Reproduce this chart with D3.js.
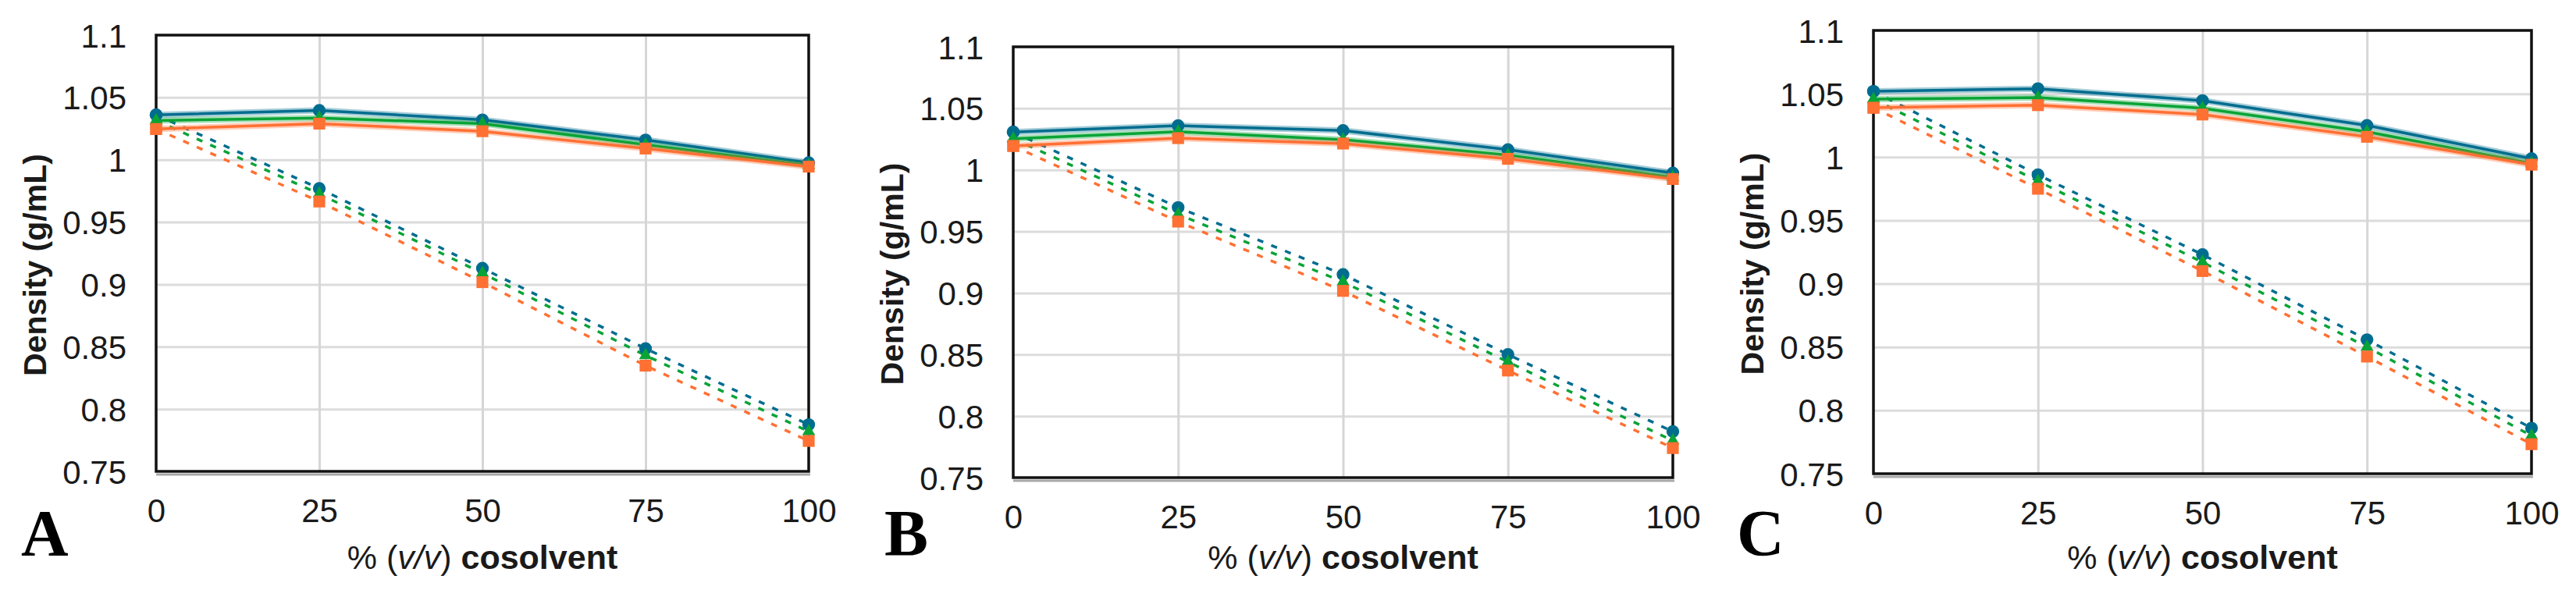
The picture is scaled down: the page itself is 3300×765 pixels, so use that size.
<!DOCTYPE html>
<html>
<head>
<meta charset="utf-8">
<script src="https://cdnjs.cloudflare.com/ajax/libs/d3/7.8.5/d3.min.js"></script>
<style>
  body { margin: 0; background: white; }
  svg { display: block; }
</style>
</head>
<body>
<div id="container"></div>
<script>
// ---------------- data ----------------
let xValues = [0, 25, 50, 75, 100];
let yTicks = [0.75, 0.8, 0.85, 0.9, 0.95, 1, 1.05, 1.1];
let panelLabels = ["A", "B", "C"];

// panel A
let aSolidBlue   = [1.036, 1.0396, 1.032, 1.0159, 0.9976];
let aSolidGreen  = [1.0315, 1.0335, 1.029, 1.012, 0.9954];
let aSolidOrange = [1.0247, 1.029, 1.0229, 1.009, 0.9945];
let aDashBlue    = [1.036, 0.977, 0.913, 0.8485, 0.7875];
let aDashGreen   = [1.0315, 0.9726, 0.909, 0.843, 0.782];
let aDashOrange  = [1.0247, 0.9665, 0.9018, 0.8348, 0.7744];

// panel B
let bSolidBlue   = [1.0307, 1.036, 1.032, 1.0165, 0.9975];
let bSolidGreen  = [1.0254, 1.031, 1.0246, 1.012, 0.994];
let bSolidOrange = [1.0195, 1.0258, 1.0214, 1.009, 0.9926];
let bDashBlue    = [1.0307, 0.9695, 0.915, 0.85, 0.7874];
let bDashGreen   = [1.0254, 0.964, 0.909, 0.844, 0.78];
let bDashOrange  = [1.0195, 0.958, 0.9017, 0.837, 0.774];

// panel C
let cSolidBlue   = [1.0519, 1.054, 1.0446, 1.025, 0.9988];
let cSolidGreen  = [1.0457, 1.047, 1.0386, 1.02, 0.995];
let cSolidOrange = [1.039, 1.041, 1.0336, 1.016, 0.994];
let cDashBlue    = [1.0519, 0.986, 0.923, 0.8558, 0.786];
let cDashGreen   = [1.0457, 0.981, 0.917, 0.85, 0.78];
let cDashOrange  = [1.039, 0.975, 0.91, 0.8425, 0.7733];

// ---------------- styles / layout ----------------
let w = 3300;
let h = 765;
let blue = "#006d8f";
let green = "#0aa336";
let orange = "#ff7033";
let tickFont = "Liberation Sans, Arial, sans-serif";

let panels = [
  { label: panelLabels[0], left: 200,  right: 1036, top: 45, bottom: 604, letterX: 27,
    solid: [aSolidBlue, aSolidGreen, aSolidOrange], dash: [aDashBlue, aDashGreen, aDashOrange] },
  { label: panelLabels[1], left: 1298, right: 2143, top: 60, bottom: 612, letterX: 1133,
    solid: [bSolidBlue, bSolidGreen, bSolidOrange], dash: [bDashBlue, bDashGreen, bDashOrange] },
  { label: panelLabels[2], left: 2400, right: 3243, top: 39, bottom: 607, letterX: 2225,
    solid: [cSolidBlue, cSolidGreen, cSolidOrange], dash: [cDashBlue, cDashGreen, cDashOrange] }
];

let colors = [blue, green, orange];
let symbols = [d3.symbolCircle, d3.symbolTriangle, d3.symbolSquare];
let symbolSizes = [210, 120, 230];

let viz = d3.select("#container").append("svg")
  .attr("width", w)
  .attr("height", h)
  .style("background-color", "white");

function fmt(d) {
  return String(+d.toFixed(2));
}

function drawPanel(p) {
  let xScale = d3.scaleLinear().domain([0, 100]).range([p.left, p.right]);
  let yScale = d3.scaleLinear().domain([0.75, 1.1]).range([p.bottom, p.top]);
  let g = viz.append("g");

  // gridlines
  g.append("g")
    .attr("transform", "translate(" + p.left + ",0)")
    .call(d3.axisLeft(yScale).tickValues(yTicks.slice(1, -1)).tickSize(-(p.right - p.left)).tickFormat(""))
    .call(s => s.select(".domain").remove())
    .selectAll("line").attr("stroke", "#dcdcdc").attr("stroke-width", 3);

  g.append("g")
    .attr("transform", "translate(0," + p.bottom + ")")
    .call(d3.axisBottom(xScale).tickValues(xValues.slice(1, -1)).tickSize(-(p.bottom - p.top)).tickFormat(""))
    .call(s => s.select(".domain").remove())
    .selectAll("line").attr("stroke", "#d6d6d6").attr("stroke-width", 3);

  // frame with shadow below
  g.append("line")
    .attr("x1", p.left).attr("x2", p.right + 2)
    .attr("y1", p.bottom + 4).attr("y2", p.bottom + 4)
    .attr("stroke", "#a8a8a8").attr("stroke-width", 3);
  g.append("rect")
    .attr("x", p.left).attr("y", p.top)
    .attr("width", p.right - p.left).attr("height", p.bottom - p.top)
    .attr("fill", "none").attr("stroke", "#111").attr("stroke-width", 3.5);

  // y tick labels
  let yAxis = g.append("g")
    .attr("transform", "translate(" + p.left + ",0)")
    .call(d3.axisLeft(yScale).tickValues(yTicks).tickSize(0).tickFormat(fmt));
  yAxis.select(".domain").remove();
  yAxis.selectAll("text")
    .attr("x", -38)
    .attr("dy", "0.36em")
    .style("font-family", tickFont)
    .style("font-size", "42px")
    .attr("fill", "#1a1a1a");

  // x tick labels
  let xAxis = g.append("g")
    .attr("transform", "translate(0," + p.bottom + ")")
    .call(d3.axisBottom(xScale).tickValues(xValues).tickSize(0).tickFormat(d3.format("d")));
  xAxis.select(".domain").remove();
  xAxis.selectAll("text")
    .attr("y", 50)
    .attr("dy", "0.36em")
    .style("font-family", tickFont)
    .style("font-size", "42px")
    .attr("fill", "#1a1a1a");

  // lines
  let line = d3.line()
    .x((d, i) => xScale(xValues[i]))
    .y(d => yScale(d));

  p.dash.forEach(function(series, k) {
    g.append("path")
      .attr("d", line(series))
      .attr("fill", "none")
      .attr("stroke", colors[k])
      .attr("stroke-width", 3.5)
      .attr("stroke-dasharray", "8,11");
  });

  p.solid.forEach(function(series, k) {
    g.append("path")
      .attr("d", line(series))
      .attr("fill", "none")
      .attr("stroke", colors[k])
      .attr("stroke-opacity", 0.35)
      .attr("stroke-width", 8);
    g.append("path")
      .attr("d", line(series))
      .attr("fill", "none")
      .attr("stroke", colors[k])
      .attr("stroke-width", 3.5);
  });

  // markers
  [p.dash, p.solid].forEach(function(group) {
    group.forEach(function(series, k) {
      g.selectAll(null).data(series).enter()
        .append("path")
        .attr("d", d3.symbol().type(symbols[k]).size(symbolSizes[k]))
        .attr("transform", (d, i) => "translate(" + xScale(xValues[i]) + "," + yScale(d) + ")")
        .attr("fill", colors[k]);
    });
  });

  // y title
  g.append("text")
    .attr("transform", "translate(" + (p.left - 155) + "," + ((p.top + p.bottom) / 2 + 15) + ") rotate(-90)")
    .attr("text-anchor", "middle")
    .attr("dominant-baseline", "central")
    .style("font-family", tickFont)
    .style("font-size", "41px")
    .style("font-weight", "bold")
    .attr("fill", "#1a1a1a")
    .text("Density (g/mL)");

  // x title
  let xt = g.append("text")
    .attr("x", (p.left + p.right) / 2)
    .attr("y", 714)
    .attr("text-anchor", "middle")
    .attr("dominant-baseline", "central")
    .style("font-family", tickFont)
    .style("font-size", "43px")
    .attr("fill", "#1a1a1a");
  xt.append("tspan").text("% (");
  xt.append("tspan").style("font-style", "italic").text("v/v");
  xt.append("tspan").text(") ");
  xt.append("tspan").style("font-weight", "bold").text("cosolvent");

  // panel letter
  g.append("text")
    .attr("x", p.letterX)
    .attr("y", 712)
    .style("font-family", "Liberation Serif, Times New Roman, serif")
    .style("font-size", "84px")
    .style("font-weight", "bold")
    .attr("fill", "black")
    .text(p.label);
}

panels.forEach(drawPanel);
</script>
</body>
</html>
